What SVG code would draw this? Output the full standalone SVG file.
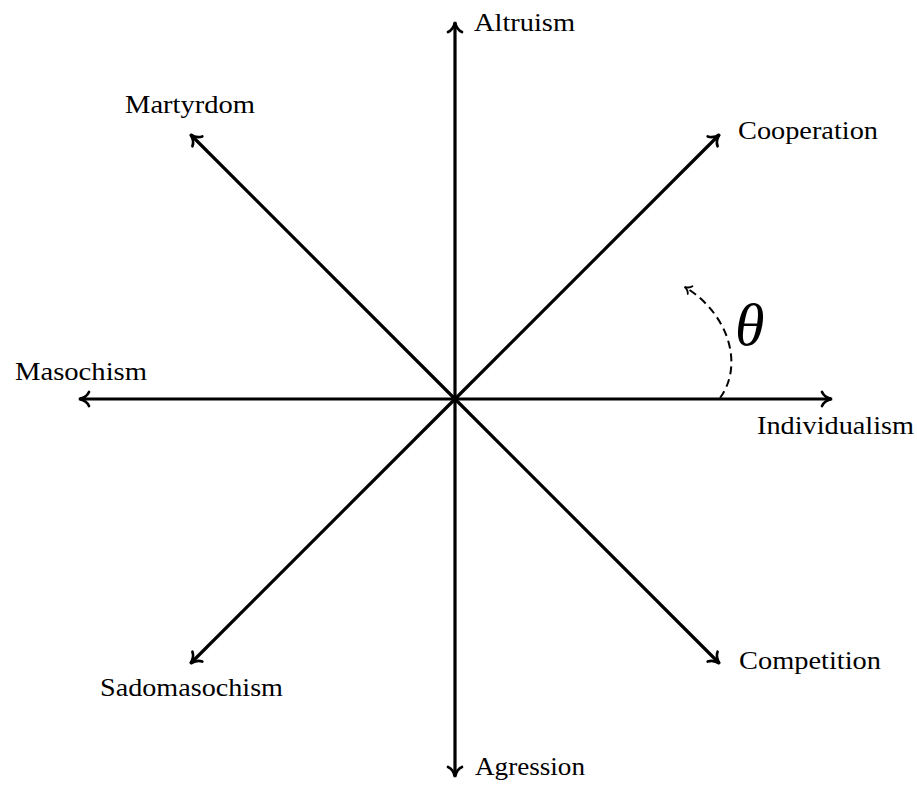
<svg xmlns="http://www.w3.org/2000/svg" width="917" height="789" viewBox="0 0 917 789">
<style>
.ax{stroke:#000;stroke-width:3.2;fill:none;marker-end:url(#ah)}
.lbl{font-family:"Liberation Serif","DejaVu Serif",serif;font-size:25px;fill:#000}
</style>
<defs>
<marker id="ah" markerUnits="userSpaceOnUse" markerWidth="20" markerHeight="20" viewBox="-12 -10 16 20" refX="0" refY="0" orient="auto">
<path d="M -9 -7 C -7 -2.5, -2 -0.6, 1 0 C -2 0.6, -7 2.5, -9 7" stroke="#000" stroke-width="2.7" fill="none" stroke-linecap="round"/>
</marker>
<marker id="ahs" markerUnits="userSpaceOnUse" markerWidth="14" markerHeight="14" viewBox="-8 -7 10 14" refX="0" refY="0" orient="auto">
<path d="M -6 -4.5 C -4.5 -1.5, -1.5 -0.4, 0.5 0 C -1.5 0.4, -4.5 1.5, -6 4.5" stroke="#000" stroke-width="1.8" fill="none" stroke-linecap="round"/>
</marker>
</defs>
<g id="connectors">
<line class="ax" x1="455" y1="399" x2="455" y2="23"/>
<line class="ax" x1="455" y1="399" x2="455" y2="776"/>
<line class="ax" x1="455" y1="399" x2="80" y2="399"/>
<line class="ax" x1="455" y1="399" x2="831" y2="399"/>
<line class="ax" x1="455" y1="399" x2="719" y2="135"/>
<line class="ax" x1="455" y1="399" x2="191" y2="135"/>
<line class="ax" x1="455" y1="399" x2="191" y2="663"/>
<line class="ax" x1="455" y1="399" x2="719" y2="663"/>
<path id="theta-arc" d="M 720 398 C 744 365, 729 314, 685 287" stroke="#000" stroke-width="2" fill="none" stroke-dasharray="8 5" marker-end="url(#ahs)"/>
</g>
<g id="altruism"><text class="lbl" x="474" y="31" textLength="101" lengthAdjust="spacingAndGlyphs">Altruism</text></g>
<g id="martyrdom"><text class="lbl" x="125" y="113" textLength="130" lengthAdjust="spacingAndGlyphs">Martyrdom</text></g>
<g id="cooperation"><text class="lbl" x="738" y="139" textLength="140" lengthAdjust="spacingAndGlyphs">Cooperation</text></g>
<g id="masochism"><text class="lbl" x="15" y="380" textLength="132" lengthAdjust="spacingAndGlyphs">Masochism</text></g>
<g id="individualism"><text class="lbl" x="757" y="434" textLength="157" lengthAdjust="spacingAndGlyphs">Individualism</text></g>
<g id="competition"><text class="lbl" x="739" y="669" textLength="142" lengthAdjust="spacingAndGlyphs">Competition</text></g>
<g id="sadomasochism"><text class="lbl" x="100" y="696" textLength="183" lengthAdjust="spacingAndGlyphs">Sadomasochism</text></g>
<g id="agression"><text class="lbl" x="475" y="775" textLength="110" lengthAdjust="spacingAndGlyphs">Agression</text></g>
<g id="theta"><text x="735" y="345" font-family="Liberation Serif, DejaVu Serif, serif" font-style="italic" font-size="60" fill="#000">θ</text></g>
</svg>
